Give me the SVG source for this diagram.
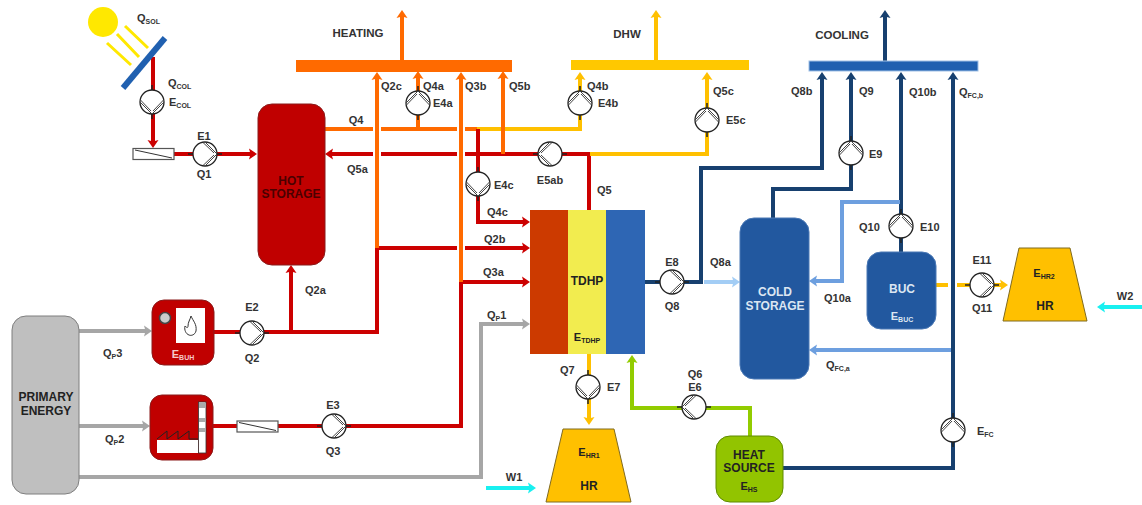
<svg xmlns="http://www.w3.org/2000/svg" width="1142" height="505" viewBox="0 0 1142 505">
<style>
text{font-family:"Liberation Sans",Arial,sans-serif;font-weight:700;font-size:11px;fill:#333}
.m{text-anchor:middle}
.h{font-size:11.5px}
.b{font-size:12px}
.s{font-size:7px}
.w{fill:#dce6f2}
.d{fill:#4a0000}
.k{fill:#222}
.c path,.c line{fill:none;stroke-width:4}
.red{stroke:#cc0000}
.org{stroke:#ff6a00}
.yel{stroke:#ffc000}
.nav{stroke:#17406f}
.lb1{stroke:#a3cdf5}
.lb2{stroke:#6d9fdf}
.grn{stroke:#92cc00}
.gry{stroke:#a6a6a6}
.cy{stroke:#19f0f0}
.halo{stroke:#fff;stroke-width:8!important}
.pc{fill:#fff;stroke:#222;stroke-width:1.3}
.pl{fill:none;stroke:#444;stroke-width:1}
.t{stroke:#222;stroke-width:1.500;fill:none}
</style>
<defs>
<marker id="aR" markerUnits="userSpaceOnUse" markerWidth="10" markerHeight="12" refX="2" refY="6" orient="auto"><path d="M0 0.5L8 6L0 11.5L1.5 6z" fill="#cc0000"/></marker>
<marker id="aO" markerUnits="userSpaceOnUse" markerWidth="10" markerHeight="12" refX="2" refY="6" orient="auto"><path d="M0 0.5L8 6L0 11.5L1.5 6z" fill="#ff6a00"/></marker>
<marker id="aY" markerUnits="userSpaceOnUse" markerWidth="10" markerHeight="12" refX="2" refY="6" orient="auto"><path d="M0 0.5L8 6L0 11.5L1.5 6z" fill="#ffc000"/></marker>
<marker id="aN" markerUnits="userSpaceOnUse" markerWidth="10" markerHeight="12" refX="2" refY="6" orient="auto"><path d="M0 0.5L8 6L0 11.5L1.5 6z" fill="#17406f"/></marker>
<marker id="aL1" markerUnits="userSpaceOnUse" markerWidth="10" markerHeight="12" refX="2" refY="6" orient="auto"><path d="M0 0.5L8 6L0 11.5L1.5 6z" fill="#a3cdf5"/></marker>
<marker id="aL2" markerUnits="userSpaceOnUse" markerWidth="10" markerHeight="12" refX="2" refY="6" orient="auto"><path d="M0 0.5L8 6L0 11.5L1.5 6z" fill="#6d9fdf"/></marker>
<marker id="aG" markerUnits="userSpaceOnUse" markerWidth="10" markerHeight="12" refX="2" refY="6" orient="auto"><path d="M0 0.5L8 6L0 11.5L1.5 6z" fill="#92cc00"/></marker>
<marker id="aK" markerUnits="userSpaceOnUse" markerWidth="10" markerHeight="12" refX="2" refY="6" orient="auto"><path d="M0 0.5L8 6L0 11.5L1.5 6z" fill="#a6a6a6"/></marker>
<marker id="aC" markerUnits="userSpaceOnUse" markerWidth="10" markerHeight="12" refX="2" refY="6" orient="auto"><path d="M0 0.5L8 6L0 11.5L1.5 6z" fill="#19f0f0"/></marker>
<g id="pump">
<path class="t" d="M-17 0H-12M12 0H17"/>
<circle class="pc" r="12"/>
<path class="pl" d="M12 0L0-12M12 0L0 12M9-1L-2-11.5M9 1L-2 11.5"/>
</g>
</defs>

<g id="connectors" class="c">
<path class="red" d="M153 57V142" marker-end="url(#aR)"/>
<path class="red" d="M174 154H251" marker-end="url(#aR)"/>
<path class="red" d="M589 210V154H331" marker-end="url(#aR)"/>
<path class="org" d="M325 129H477"/>
<path class="yel" d="M477 129H580V78" marker-end="url(#aY)"/>
<path class="org" d="M418 129V77" marker-end="url(#aO)"/>
<path class="org" d="M503 154V77" marker-end="url(#aO)"/>
<path class="red" d="M478 129V222H524" marker-end="url(#aR)"/>
<path class="yel" d="M590 154H707V78" marker-end="url(#aY)"/>
<path class="red" d="M214 332H377V248H524" marker-end="url(#aR)"/>
<path class="red" d="M291 332V271" marker-end="url(#aR)"/>
<path class="red" d="M213 426H461V282H524" marker-end="url(#aR)"/>
<path class="halo" d="M377 135V123M377 160V148"/>
<path class="halo" d="M461 135V123M461 160V148M461 254V242"/>
<path class="org" d="M377 248V78" marker-end="url(#aO)"/>
<path class="org" d="M461 282V78" marker-end="url(#aO)"/>
<path class="org" d="M402 61V16" marker-end="url(#aO)"/>
<path class="yel" d="M656 61V16" marker-end="url(#aY)"/>
<path class="nav" d="M885 61V16" marker-end="url(#aN)"/>
<path class="gry" d="M79 331H146" marker-end="url(#aK)"/>
<path class="gry" d="M79 426H144" marker-end="url(#aK)"/>
<path class="gry" d="M79 477H481V324H524" marker-end="url(#aK)"/>
<path class="yel" d="M589 354V419" marker-end="url(#aY)"/>
<path class="grn" d="M750 436V408H632V361" marker-end="url(#aG)"/>
<path class="nav" d="M645 282H701V168H822V78" marker-end="url(#aN)"/>
<path class="lb1" d="M704 282H734" marker-end="url(#aL1)"/>
<path class="nav" d="M773 218V189H851V78" marker-end="url(#aN)"/>
<path class="nav" d="M901 252V78" marker-end="url(#aN)"/>
<path class="lb2" d="M900 202H842V281H815" marker-end="url(#aL2)"/>
<path class="lb2" d="M951 350H815" marker-end="url(#aL2)"/>
<path class="nav" d="M783 468H953V78" marker-end="url(#aN)"/>
<path class="yel" d="M936 285H948M957 285H1002" marker-end="url(#aY)"/>
<path class="cy" d="M486 488H530" marker-end="url(#aC)"/>
<path class="cy" d="M1142 307H1103" marker-end="url(#aC)"/>
</g>

<g id="solar">
<circle cx="103" cy="22" r="15" fill="#ffe800"/>
<path d="M125 26L148 48M117 34L139 57M107 43L131 65" stroke="#ffe800" stroke-width="3" fill="none"/>
<path d="M123 88L165 38" stroke="#2060b0" stroke-width="6" fill="none"/>
<text x="137" y="22">Q<tspan class="s" dy="2">SOL</tspan></text>
<text x="168" y="87">Q<tspan class="s" dy="2">COL</tspan></text>
<text x="169" y="106">E<tspan class="s" dy="2">COL</tspan></text>
</g>

<g id="pump-col"><use href="#pump" transform="translate(152 102) rotate(90)"/></g>
<g id="hx1"><rect x="133" y="148.500" width="41" height="11" fill="#fff" stroke="#555" stroke-width="1.200"/><path d="M135 150L172 158" stroke="#333" fill="none"/></g>
<g id="pump-e1"><use href="#pump" transform="translate(205 154)"/><text class="m" x="204" y="140">E1</text><text class="m" x="204" y="178">Q1</text></g>

<g id="hot-storage"><rect x="258" y="104" width="67" height="161" rx="14" fill="#c00000" stroke="#8a1a1a"/><text class="m b d" x="291" y="185">HOT</text><text class="m b d" x="291" y="198">STORAGE</text></g>

<g id="heating"><rect x="296" y="60" width="216" height="12" fill="#ff6a00"/><text class="m h" x="358" y="37">HEATING</text></g>
<g id="dhw"><rect x="571" y="60" width="178" height="10" fill="#ffc800"/><text class="m h" x="627" y="38">DHW</text></g>
<g id="cooling"><rect x="809" y="61" width="169" height="10" fill="#2060b0" stroke="#9fc0e6"/><text class="m h" x="842" y="39">COOLING</text></g>

<g id="pump-e4a"><use href="#pump" transform="translate(418 103) rotate(-90)"/><text x="423" y="90">Q4a</text><text x="433" y="107">E4a</text></g>
<g id="pump-e4b"><use href="#pump" transform="translate(580 103) rotate(-90)"/><text x="587" y="90">Q4b</text><text x="598" y="107">E4b</text></g>
<g id="pump-e5c"><use href="#pump" transform="translate(707 120) rotate(-90)"/><text x="713" y="95">Q5c</text><text x="726" y="124">E5c</text></g>
<g id="pump-e4c"><use href="#pump" transform="translate(478 184) rotate(90)"/><text x="494" y="189">E4c</text></g>
<g id="pump-e5ab"><use href="#pump" transform="translate(550 154) rotate(180)"/><text class="m" x="550" y="184">E5ab</text></g>

<g id="labels-top">
<text x="381" y="90">Q2c</text><text x="465" y="90">Q3b</text><text x="509" y="90">Q5b</text>
<text class="m" x="356" y="124">Q4</text><text x="347" y="173">Q5a</text><text x="597" y="194">Q5</text>
<text x="487" y="216">Q4c</text><text x="484" y="243">Q2b</text><text x="483" y="276">Q3a</text>
<text x="487" y="319">Q<tspan class="s" dy="2">P</tspan><tspan dy="-2">1</tspan></text>
<text x="305" y="294">Q2a</text>
</g>

<g id="tdhp">
<rect x="530" y="210" width="38" height="144" fill="#cc3a00"/>
<rect x="568" y="210" width="38" height="144" fill="#f2ec4f"/>
<rect x="606" y="210" width="39" height="144" fill="#2e66b4"/>
<text class="m b k" x="587" y="285">TDHP</text>
<text class="m k" x="587" y="341">E<tspan class="s" dy="2">TDHP</tspan></text>
</g>

<g id="primary-energy"><rect x="12" y="316" width="67" height="178" rx="14" fill="#bfbfbf" stroke="#7f7f7f"/><text class="m b k" x="46" y="401">PRIMARY</text><text class="m b k" x="46" y="415">ENERGY</text></g>
<text x="103" y="357">Q<tspan class="s" dy="2">P</tspan><tspan dy="-2">3</tspan></text>
<text x="105" y="443">Q<tspan class="s" dy="2">P</tspan><tspan dy="-2">2</tspan></text>

<g id="boiler">
<rect x="152" y="300" width="62" height="65" rx="12" fill="#c00000" stroke="#8a1a1a"/>
<rect x="176" y="308" width="29" height="35" fill="#fff"/>
<circle cx="165" cy="318" r="5.500" fill="#ccc" stroke="#444" stroke-width="1.500"/>
<path d="M191 316C193 321 197 324 196 331C195 335 191 336 189 335C186 334 184 330 185 326C187 328 188 328 188 326C188 322 190 320 191 316z" fill="#fff" stroke="#333"/>
<text class="m" x="183" y="358" style="fill:#f6c8c8;font-size:11px">E<tspan class="s" style="fill:#f6c8c8" dy="2">BUH</tspan></text>
</g>
<g id="pump-e2"><use href="#pump" transform="translate(252 333)"/><text class="m" x="252" y="311">E2</text><text class="m" x="252" y="362">Q2</text></g>

<g id="plant">
<rect x="150" y="395" width="63" height="65" rx="12" fill="#c00000" stroke="#8a1a1a"/>
<rect x="157" y="440" width="41" height="13" fill="#fff"/>
<path d="M157 439L167 431V439L178 431V439L189 431V439H198" fill="none" stroke="#222"/>
<rect x="198.500" y="402" width="7.500" height="51" fill="#fff" stroke="#333" stroke-width=".8"/>
<path d="M199 403H206V408H199zM199 418H206V422H199zM199 428H206V432H199z" fill="#aaa"/>
</g>
<g id="hx2"><rect x="237" y="421" width="41" height="11" fill="#fff" stroke="#555" stroke-width="1.200"/><path d="M239 422.500L276 430.500" stroke="#333" fill="none"/></g>
<g id="pump-e3"><use href="#pump" transform="translate(334 426)"/><text class="m" x="333" y="409">E3</text><text class="m" x="333" y="455">Q3</text></g>

<g id="pump-e7"><use href="#pump" transform="translate(588 387) rotate(90)"/><text x="560" y="374">Q7</text><text x="607" y="391">E7</text></g>
<g id="hr1"><path d="M563 429H614L631 502H546z" fill="#ffc000" stroke="#7f6a20"/><text class="m k" x="589" y="456">E<tspan class="s" dy="2">HR1</tspan></text><text class="m b k" x="589" y="490">HR</text></g>
<text class="m" x="514" y="481">W1</text>

<g id="pump-e6"><use href="#pump" transform="translate(694 407) rotate(180)"/><text class="m" x="695" y="378">Q6</text><text class="m" x="695" y="391">E6</text></g>
<g id="heat-source"><rect x="716" y="436" width="67" height="66" rx="14" fill="#92c400" stroke="#5f8a00"/><text class="m b k" x="749" y="459">HEAT</text><text class="m b k" x="749" y="472">SOURCE</text><text class="m k" x="749" y="490">E<tspan class="s" dy="2">HS</tspan></text></g>

<g id="pump-e8"><use href="#pump" transform="translate(672 282)"/><text class="m" x="672" y="266">E8</text><text class="m" x="672" y="310">Q8</text></g>
<text x="710" y="266">Q8a</text>
<g id="cold-storage"><rect x="740" y="218" width="69" height="161" rx="14" fill="#22589f" stroke="#4a78b5"/><text class="m b w" x="775" y="296">COLD</text><text class="m b w" x="775" y="310">STORAGE</text></g>

<g id="labels-cooling">
<text x="791" y="95">Q8b</text><text x="859" y="95">Q9</text><text x="909" y="96">Q10b</text>
<text x="959" y="96">Q<tspan class="s" dy="2">FC,b</tspan></text>
<text x="824" y="302">Q10a</text>
<text x="826" y="369">Q<tspan class="s" dy="2">FC,a</tspan></text>
</g>
<g id="pump-e9"><use href="#pump" transform="translate(851 153) rotate(-90)"/><text x="869" y="158">E9</text></g>
<g id="pump-e10"><use href="#pump" transform="translate(901 226) rotate(-90)"/><text x="859" y="231">Q10</text><text x="920" y="231">E10</text></g>
<g id="buc"><rect x="867" y="252" width="69" height="77" rx="14" fill="#22589f" stroke="#4a78b5"/><text class="m b w" x="902" y="293">BUC</text><text class="m w" x="902" y="320">E<tspan class="s w" dy="2">BUC</tspan></text></g>
<g id="pump-efc"><use href="#pump" transform="translate(953 430) rotate(-90)"/><text x="977" y="435">E<tspan class="s" dy="2">FC</tspan></text></g>
<g id="pump-e11"><use href="#pump" transform="translate(982 285)"/><text class="m" x="982" y="264">E11</text><text class="m" x="982" y="312">Q11</text></g>
<g id="hr2"><path d="M1019 248H1070L1087 321H1003z" fill="#ffc000" stroke="#7f6a20"/><text class="m k" x="1044" y="277">E<tspan class="s" dy="2">HR2</tspan></text><text class="m b k" x="1045" y="310">HR</text></g>
<text class="m" x="1125" y="300">W2</text>
</svg>
